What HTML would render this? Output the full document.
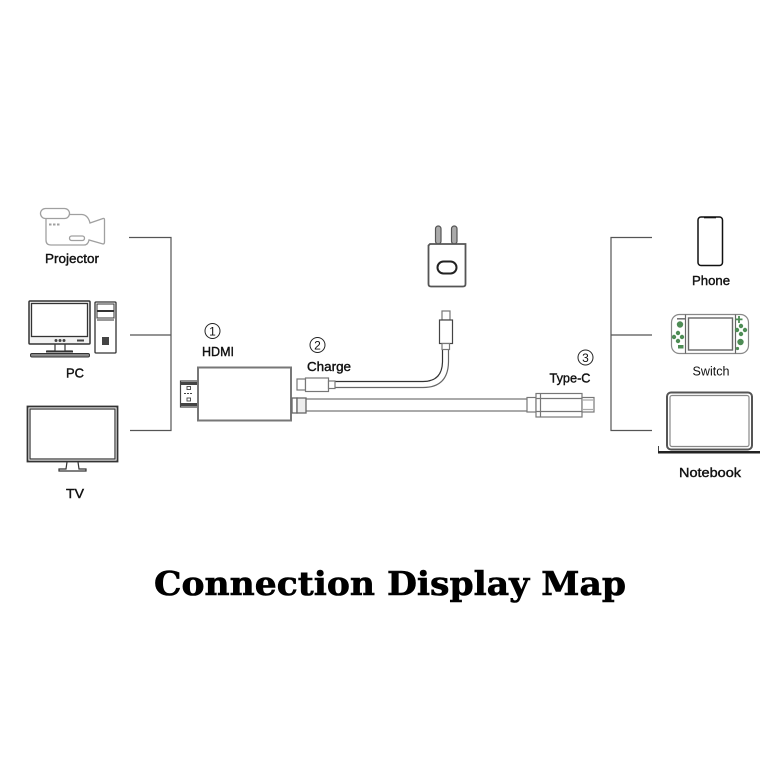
<!DOCTYPE html>
<html><head><meta charset="utf-8"><style>
html,body{margin:0;padding:0;background:#fff;width:779px;height:779px;overflow:hidden}
svg{display:block}
.l{font-family:"Liberation Sans",sans-serif;font-size:13px;fill:#111;stroke:#111;stroke-width:.4}
</style></head><body>
<svg width="779" height="779" viewBox="0 0 779 779" xmlns="http://www.w3.org/2000/svg">
<rect width="779" height="779" fill="#fff"/>
<!-- brackets -->
<g fill="none" stroke="#555" stroke-width="1.200">
<path d="M129 237.500H171V430.500H130M130 335H171"/>
<path d="M652 237.500H611V430.500H652M611 335H652"/>
</g>
<!-- projector -->
<g fill="none" stroke="#a0a0a0" stroke-width="1.300">
<path d="M46 219V240Q46 245 51 245H84Q88 245 89 240L103 244Q104.500 244 104.500 242V220Q104.500 218 103 218.500L90 223Q88 215 82 214.500H69"/>
<rect x="40.500" y="208.500" width="29" height="10" rx="5" fill="#fff"/>
<rect x="69.500" y="236" width="15" height="4.500" rx="2.200"/>
<path d="M49 224.500h12" stroke-dasharray="2.500 1.500" stroke-width="2"/>
</g>
<text class="l" x="45" y="263" textLength="54" lengthAdjust="spacingAndGlyphs">Projector</text>
<!-- PC -->
<g fill="none" stroke="#333">
<rect x="29" y="301" width="61" height="43" rx="1" fill="#f2f2f2" stroke-width="1.500"/>
<rect x="31.500" y="303.500" width="56" height="33" fill="#fff" stroke-width="1.300"/>
<path d="M55 344V351H47M65 344V351H72" stroke-width="1.200"/>
<rect x="46" y="350.500" width="27" height="2" fill="#333" stroke="none"/>
<rect x="30.500" y="353.500" width="59" height="3.500" rx="1.500" fill="#888" stroke-width="1"/>
<rect x="95" y="302" width="21" height="51" rx="1" stroke-width="1.300"/>
<rect x="97" y="304" width="17" height="6.500" stroke-width="1"/>
<rect x="97" y="311.500" width="17" height="6.500" stroke-width="1"/>
<path d="M97 320H114" stroke-width="1.500" stroke="#777"/>
<rect x="102" y="337" width="7" height="8" fill="#444" stroke="none"/>
</g>
<g fill="#444"><circle cx="56" cy="340.500" r="1.500"/><circle cx="60" cy="340.500" r="1.500"/><circle cx="64" cy="340.500" r="1.500"/><rect x="77" y="339.500" width="7" height="2"/></g>
<text class="l" x="66" y="377.500" textLength="18" lengthAdjust="spacingAndGlyphs">PC</text>
<!-- TV -->
<g fill="none" stroke="#333">
<rect x="27.500" y="406.500" width="90" height="55" stroke-width="1.800"/>
<rect x="30" y="409" width="85" height="50" stroke-width="1.200"/>
<path d="M67 462L66 469H59V471H86V469H79L78 462" stroke-width="1.200"/>
</g>
<text class="l" x="66" y="498" textLength="18" lengthAdjust="spacingAndGlyphs">TV</text>
<!-- HDMI plug -->
<g fill="none" stroke="#444" stroke-width="1.200">
<rect x="180.500" y="381" width="18" height="26" fill="#fff"/>
<path d="M180 383.500H198M180 404.500H198" stroke-width="3"/>
<rect x="187" y="386.500" width="3.500" height="3" stroke-width=".9"/>
<rect x="187" y="398" width="3.500" height="3" stroke-width=".9"/>
<path d="M184 393.500h9" stroke-width="1" stroke-dasharray="2 1"/>
</g>
<!-- adapter -->
<rect x="198" y="367.500" width="93" height="53" fill="#fff" stroke="#777" stroke-width="2"/>
<!-- main cable -->
<path d="M306 399H527M306 411H527" stroke="#777" stroke-width="1.300" fill="none"/>
<g fill="#fff" stroke="#666" stroke-width="1.300">
<rect x="292" y="398" width="5" height="15"/>
<rect x="297" y="398" width="9" height="15" fill="#eee"/>
</g>
<!-- type-c -->
<g fill="#fff" stroke="#777" stroke-width="1.200">
<rect x="527" y="397.500" width="9" height="14.500"/>
<rect x="536" y="393.500" width="46" height="23.500"/>
<path d="M540.500 393.500V417M536 398.500H582M536 411.500H582" fill="none"/>
<rect x="582" y="397.500" width="12" height="14.500"/>
<path d="M582 400H593M582 409.500H593" fill="none" stroke="#aaa"/>
</g>
<!-- charge cable -->
<g fill="none">
<path d="M335 381.500H423Q442 381.500 442.500 362V350" stroke="#333" stroke-width="1.200"/>
<path d="M335 387.500H423Q448 387.500 448.500 362V350" stroke="#666" stroke-width="1.200"/>
</g>
<g fill="#fff" stroke="#777" stroke-width="1.200">
<rect x="297" y="379" width="8.500" height="11"/>
<rect x="305.500" y="378" width="23" height="13.500"/>
<rect x="328.500" y="381" width="6.500" height="7.500"/>
<rect x="442" y="311" width="8" height="9"/>
<rect x="439.500" y="320" width="13" height="23.500" stroke="#444"/>
<rect x="442" y="343.500" width="7.500" height="6"/>
</g>
<!-- charger -->
<g>
<rect x="435.500" y="226" width="5.500" height="18" rx="2.700" fill="#aaa" stroke="#555" stroke-width="1.200"/>
<rect x="451.500" y="226" width="5.500" height="18" rx="2.700" fill="#aaa" stroke="#555" stroke-width="1.200"/>
<path d="M430 244H465.500V284Q465.500 286.500 463 286.500H431Q428.500 286.500 428.500 284V245.500Z" fill="#fff" stroke="#555" stroke-width="1.800"/>
<rect x="437.500" y="261.500" width="19" height="12" rx="6" fill="#fff" stroke="#222" stroke-width="2"/>
</g>
<!-- circled labels -->
<g fill="none" stroke="#222" stroke-width="1"><circle cx="212.500" cy="331" r="7.500"/><circle cx="317.500" cy="345" r="7.500"/><circle cx="585.500" cy="357.500" r="7.500"/></g>
<g font-family="'Liberation Sans',sans-serif" font-size="12" fill="#111" text-anchor="middle"><text x="212.500" y="335.500">1</text><text x="317.500" y="349.500">2</text><text x="585.500" y="362">3</text></g>
<text class="l" x="202" y="356" textLength="32" lengthAdjust="spacingAndGlyphs">HDMI</text>
<text class="l" x="307" y="371" textLength="44" lengthAdjust="spacingAndGlyphs">Charge</text>
<text class="l" x="549.500" y="382.500" textLength="41" lengthAdjust="spacingAndGlyphs">Type-C</text>
<!-- phone -->
<rect x="698" y="217" width="24.500" height="48.500" rx="3" fill="#fff" stroke="#111" stroke-width="1.500"/>
<rect x="704" y="216.500" width="12" height="1.800" fill="#111"/>
<text class="l" x="692" y="285" textLength="38" lengthAdjust="spacingAndGlyphs">Phone</text>
<!-- switch -->
<g fill="none" stroke="#666">
<rect x="671.500" y="314.500" width="77" height="39" rx="8" stroke-width="1.200" stroke="#888"/>
<path d="M685.500 314.500V353.500M735.500 314.500V353.500" stroke-width="1.200"/>
<rect x="688.500" y="318" width="44" height="32" stroke-width="1.400"/>
</g>
<g fill="#4e8c55">
<rect x="677" y="318" width="8" height="1.600" fill="#777"/>
<circle cx="680" cy="324.500" r="3.200"/>
<circle cx="678" cy="333" r="2.200"/><circle cx="674" cy="337" r="2.200"/><circle cx="682" cy="337" r="2.200"/><circle cx="678" cy="341" r="2.200"/>
<rect x="678" y="345" width="5.500" height="3.500"/>
<path d="M735.500 318.500h7v1.800h-7zM738.100 316h1.800v7h-1.800z"/>
<circle cx="741" cy="326" r="2.200"/><circle cx="737" cy="330" r="2.200"/><circle cx="745" cy="330" r="2.200"/><circle cx="741" cy="334" r="2.200"/>
<circle cx="740.500" cy="342" r="3.200"/>
<circle cx="737.500" cy="348.500" r="1.600"/>
</g>
<text class="l" x="692.500" y="375.500" textLength="37" lengthAdjust="spacingAndGlyphs" style="stroke-width:0">Switch</text>
<!-- laptop -->
<g fill="#fff">
<rect x="667" y="392.500" width="85" height="57" rx="4" stroke="#555" stroke-width="2"/>
<rect x="670" y="395.500" width="79" height="51" rx="2" stroke="#888" stroke-width="1.200"/>
<rect x="658" y="451" width="102" height="2.500" fill="#222"/>
<rect x="658" y="446" width="1" height="5" fill="#444"/>
</g>
<text class="l" x="679" y="477" textLength="62" lengthAdjust="spacingAndGlyphs">Notebook</text>
<!-- title -->
<text x="154" y="595" font-family="'DejaVu Serif','Liberation Serif',serif" font-weight="bold" font-size="33" fill="#000" stroke="#000" stroke-width=".6" textLength="472" lengthAdjust="spacingAndGlyphs">Connection Display Map</text>
</svg>
</body></html>
